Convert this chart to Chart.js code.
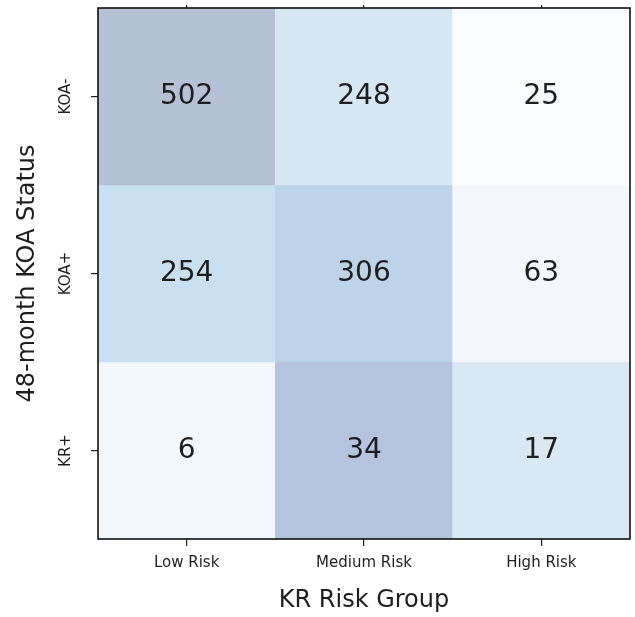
<!DOCTYPE html>
<html>
<head>
<meta charset="utf-8">
<script src="https://cdn.jsdelivr.net/npm/chart.js@4.4.1/dist/chart.umd.min.js"></script>
<style>
  html, body { margin: 0; padding: 0; background: #ffffff; }
  canvas { display: block; }
</style>
</head>
<body>
<canvas id="heat" width="635" height="617"></canvas>
<script>
// Confusion table: 48-month KOA status (rows) against KR risk group (columns)
const riskGroups = ['Low Risk', 'Medium Risk', 'High Risk'];
const koaStatus = ['KOA-', 'KOA+', 'KR+'];
const countsKoaNeg = [502, 248, 25];
const countsKoaPos = [254, 306, 63];
const countsKrPos = [6, 34, 17];
const rows = [countsKoaNeg, countsKoaPos, countsKrPos];

// Colour ramp indexed by the share of a cell within its row
const RAMP = [
  [0.00, [251, 252, 254]],
  [0.03, [249, 251, 253]],
  [0.10, [243, 247, 251]],
  [0.30, [217, 233, 243]],
  [0.32, [213, 231, 243]],
  [0.41, [201, 224, 241]],
  [0.49, [188, 211, 232]],
  [0.60, [179, 196, 220]],
  [0.65, [181, 193, 212]],
  [1.00, [181, 193, 212]]
];
function rampColour(t) {
  for (let i = 1; i < RAMP.length; i++) {
    if (t <= RAMP[i][0]) {
      const [t0, c0] = RAMP[i - 1];
      const [t1, c1] = RAMP[i];
      const f = (t - t0) / (t1 - t0);
      const c = c0.map((v, k) => Math.round(v + (c1[k] - v) * f));
      return `rgb(${c[0]},${c[1]},${c[2]})`;
    }
  }
  const c = RAMP[RAMP.length - 1][1];
  return `rgb(${c[0]},${c[1]},${c[2]})`;
}

const FONT = 'DejaVu Sans';
const INK = '#1e1e1e';

// One floating-bar dataset per row; each bar spans its row band on the y scale
const datasets = rows.map((vals, r) => {
  const total = vals.reduce((a, b) => a + b, 0);
  return {
    label: koaStatus[r],
    data: vals.map(() => [r, r + 1]),
    counts: vals,
    backgroundColor: vals.map(v => rampColour(v / total)),
    borderWidth: 0,
    barPercentage: 1.0,
    categoryPercentage: 1.0,
    grouped: false
  };
});

const cellText = {
  id: 'cellText',
  afterDatasetsDraw(chart) {
    const { ctx } = chart;
    const xs = chart.scales.x, ys = chart.scales.y;
    ctx.save();
    ctx.font = `28px "${FONT}"`;
    ctx.fillStyle = INK;
    ctx.textAlign = 'center';
    ctx.textBaseline = 'middle';
    chart.data.datasets.forEach((ds, r) => {
      ds.counts.forEach((v, c) => {
        const px = xs.getPixelForValue(c);
        const py = ys.getPixelForValue(r + 0.5);
        ctx.fillText(String(v), px, py);
      });
    });
    ctx.restore();
  },
  afterDraw(chart) {
    const { ctx, chartArea: a } = chart;
    ctx.save();
    ctx.strokeStyle = '#111111';
    ctx.lineWidth = 1.6;
    ctx.strokeRect(a.left, a.top, a.right - a.left, a.bottom - a.top);
    ctx.restore();
  }
};

new Chart(document.getElementById('heat'), {
  type: 'bar',
  data: { labels: riskGroups, datasets },
  plugins: [cellText],
  options: {
    responsive: false,
    animation: false,
    devicePixelRatio: 1,
    layout: { padding: { left: 0, right: 5, top: 0, bottom: 0 } },
    plugins: { legend: { display: false }, tooltip: { enabled: false } },
    scales: {
      x: {
        type: 'category',
        position: 'bottom',
        offset: true,
        grid: { offset: false, drawOnChartArea: false, drawTicks: true, tickLength: 7, color: INK, lineWidth: 1.2 },
        border: { display: false },
        ticks: { font: { family: FONT, size: 15 }, color: INK, padding: 8, maxRotation: 0, minRotation: 0 },
        title: { display: true, text: 'KR Risk Group', font: { family: FONT, size: 24 }, color: INK, padding: { top: 0, bottom: 2 } },
        afterFit(s) { s.height = 78; s.paddingLeft = 0; s.paddingRight = 0; }
      },
      x2: {
        type: 'category',
        position: 'top',
        offset: true,
        grid: { offset: false, drawOnChartArea: false, drawTicks: true, tickLength: 3, color: INK, lineWidth: 1.2 },
        border: { display: false },
        ticks: { display: false },
        afterFit(s) { s.height = 8; s.paddingLeft = 0; s.paddingRight = 0; }
      },
      y: {
        type: 'linear',
        position: 'left',
        min: 0,
        max: 3,
        reverse: true,
        afterBuildTicks(s) { s.ticks = koaStatus.map((_, i) => ({ value: i + 0.5 })); },
        grid: { drawOnChartArea: false, drawTicks: true, tickLength: 7, color: INK, lineWidth: 1.2 },
        border: { display: false },
        ticks: {
          font: { family: FONT, size: 15 },
          color: INK,
          padding: 3,
          minRotation: 90,
          maxRotation: 90,
          crossAlign: 'center',
          callback: (v) => koaStatus[Math.floor(v)]
        },
        title: { display: true, text: '48-month KOA Status', font: { family: FONT, size: 24 }, color: INK, padding: { top: 13, bottom: 0 } },
        afterFit(s) { s.width = 98; s.paddingTop = 0; s.paddingBottom = 0; }
      }
    }
  }
});
</script>
</body>
</html>
